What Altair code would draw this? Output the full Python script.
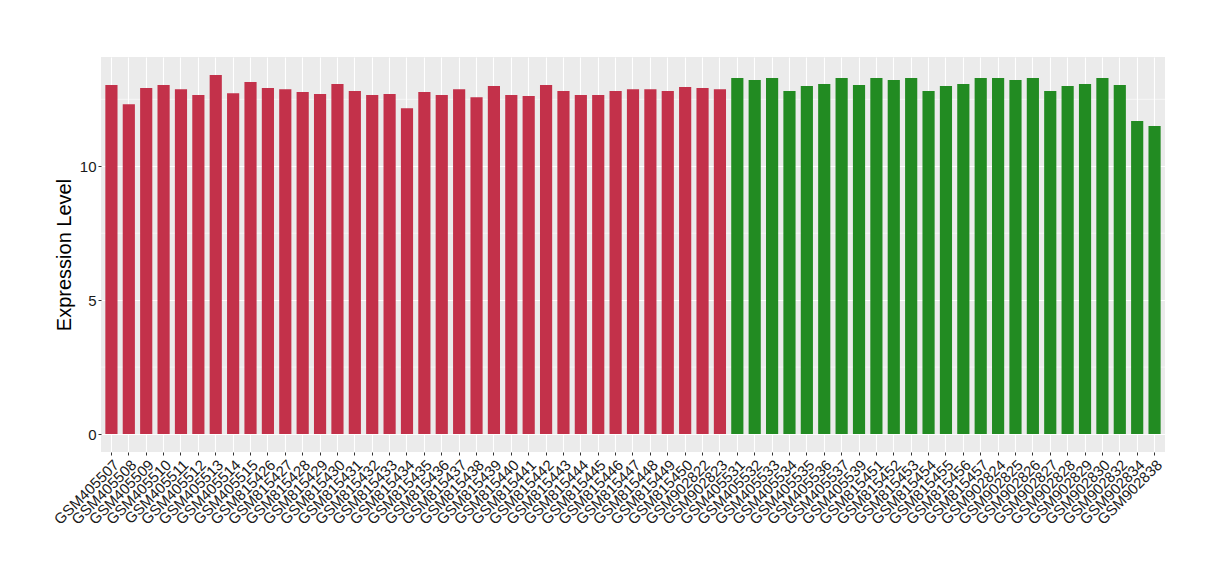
import altair as alt
import pandas as pd

samples = [
    "GSM405507", "GSM405508", "GSM405509", "GSM405510", "GSM405511", "GSM405512",
    "GSM405513", "GSM405514", "GSM405515", "GSM815426", "GSM815427", "GSM815428",
    "GSM815429", "GSM815430", "GSM815431", "GSM815432", "GSM815433", "GSM815434",
    "GSM815435", "GSM815436", "GSM815437", "GSM815438", "GSM815439", "GSM815440",
    "GSM815441", "GSM815442", "GSM815443", "GSM815444", "GSM815445", "GSM815446",
    "GSM815447", "GSM815448", "GSM815449", "GSM815450", "GSM902822", "GSM902823",
    "GSM405531", "GSM405532", "GSM405533", "GSM405534", "GSM405535", "GSM405536",
    "GSM405537", "GSM405539", "GSM815451", "GSM815452", "GSM815453", "GSM815454",
    "GSM815455", "GSM815456", "GSM815457", "GSM902824", "GSM902825", "GSM902826",
    "GSM902827", "GSM902828", "GSM902829", "GSM902830", "GSM902832", "GSM902834",
    "GSM902838",
]

values = [
    13.03, 12.32, 12.92, 13.03, 12.88, 12.66, 13.41, 12.73, 13.15, 12.92,
    12.88, 12.77, 12.70, 13.07, 12.81, 12.66, 12.70, 12.17, 12.77, 12.66,
    12.88, 12.58, 13.00, 12.66, 12.62, 13.03, 12.81, 12.66, 12.66, 12.81,
    12.88, 12.88, 12.81, 12.96, 12.92, 12.88,
    13.30, 13.22, 13.30, 12.81, 13.00, 13.07, 13.30, 13.03, 13.30, 13.22,
    13.30, 12.81, 13.00, 13.07, 13.30, 13.30, 13.22, 13.30, 12.81, 13.00,
    13.07, 13.30, 13.03, 11.69, 11.50,
]

groups = ["A"] * 36 + ["B"] * 25
group_colors = ["#C3314A", "#228B22"]

minor_breaks = [2.5, 7.5, 12.5]
major_breaks = [0, 5, 10]
y_domain = [-0.67, 14.08]

df = pd.DataFrame({"sample": samples, "value": values, "group": groups})
minor_df = pd.DataFrame({"y": minor_breaks})

FONT = "Liberation Sans"

x_enc = alt.X(
    "sample:N",
    sort=samples,
    scale=alt.Scale(paddingInner=0.3, paddingOuter=0.25),
    axis=alt.Axis(
        title=None,
        labelAngle=315,
        labelAlign="right",
        labelBaseline="top",
        labelFontSize=15,
        labelColor="#1A1A1A",
        labelFont=FONT,
        labelPadding=2,
        bandPosition=0.5,
        grid=True,
        gridColor="white",
        gridWidth=1.1,
        domain=False,
        tickColor="#333333",
        tickSize=3,
        labelOverlap=False,
    ),
)

y_scale = alt.Scale(domain=y_domain, nice=False, zero=False)

minor = alt.Chart(minor_df).mark_rule(color="white", strokeWidth=0.55).encode(
    y=alt.Y("y:Q", scale=y_scale)
)

bars = alt.Chart(df).mark_bar().encode(
    x=x_enc,
    y=alt.Y(
        "value:Q",
        scale=y_scale,
        axis=alt.Axis(
            title="Expression Level",
            titleFontSize=20,
            titleFont=FONT,
            titleFontWeight="normal",
            titleColor="black",
            titlePadding=5,
            values=major_breaks,
            labelFontSize=15,
            labelColor="#1A1A1A",
            labelFont=FONT,
            labelPadding=2,
            grid=True,
            gridColor="white",
            gridWidth=1.1,
            domain=False,
            tickColor="#333333",
            tickSize=3,
        ),
    ),
    y2=alt.datum(0),
    color=alt.Color(
        "group:N",
        scale=alt.Scale(domain=["A", "B"], range=group_colors),
        legend=None,
    ),
)

chart = (
    alt.layer(minor, bars)
    .properties(
        width=1064,
        height=395,
        autosize=alt.AutoSizeParams(type="none"),
        padding={"left": 93, "top": 49, "right": 47, "bottom": 100},
        background="white",
    )
    .configure_view(fill="#EBEBEB", stroke=None)
)

chart.save("out.html", embed_options={"renderer": "svg", "actions": False})
